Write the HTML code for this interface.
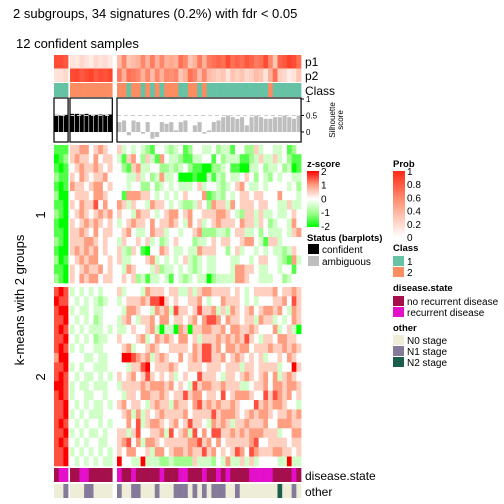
<!DOCTYPE html>
<html><head><meta charset="utf-8">
<style>
html,body{margin:0;padding:0;background:#fff;}
svg{display:block;font-family:"Liberation Sans",sans-serif;}
</style></head>
<body>
<svg id="chart" width="504" height="504" viewBox="0 0 504 504">
<text x="13" y="18" font-size="13">2 subgroups, 34 signatures (0.2%) with fdr &lt; 0.05</text>
<text x="16" y="48" font-size="13">12 confident samples</text>
<text transform="translate(24,300) rotate(-90)" font-size="13" text-anchor="middle">k-means with 2 groups</text>
<text transform="translate(45,215) rotate(-90)" font-size="13" text-anchor="middle">1</text>
<text transform="translate(45,377) rotate(-90)" font-size="13" text-anchor="middle">2</text>
<text x="305" y="66" font-size="12">p1</text>
<text x="305" y="80" font-size="12">p2</text>
<text x="305" y="95" font-size="12">Class</text>
<text x="305" y="480" font-size="12">disease.state</text>
<text x="305" y="496" font-size="12">other</text>
<text transform="translate(335,120) rotate(-90)" font-size="8" text-anchor="middle">Silhouette</text>
<text transform="translate(343,120) rotate(-90)" font-size="8" text-anchor="middle">score</text>
<g id="legends" font-size="10">
<text x="307" y="167" font-weight="bold" font-size="9.5">z-score</text>
<text x="393" y="167" font-weight="bold" font-size="9.5">Prob</text>
<text x="307" y="241" font-weight="bold" font-size="9.5">Status (barplots)</text>
<rect x="308" y="244" width="11" height="10" fill="#000"/>
<text x="322" y="253">confident</text>
<rect x="308" y="256" width="11" height="10" fill="#bebebe"/>
<text x="322" y="265">ambiguous</text>
<text x="393" y="251" font-weight="bold" font-size="9.5">Class</text>
<rect x="393" y="256" width="11" height="10" fill="#66c2a5"/>
<text x="407" y="265">1</text>
<rect x="393" y="267" width="11" height="10" fill="#fc8d62"/>
<text x="407" y="276">2</text>
<text x="393" y="291" font-weight="bold" font-size="9.5">disease.state</text>
<rect x="393" y="296" width="11" height="10" fill="#a50f4c"/>
<text x="407" y="305">no recurrent disease</text>
<rect x="393" y="307" width="11" height="10" fill="#e30fcb"/>
<text x="407" y="316">recurrent disease</text>
<text x="393" y="331" font-weight="bold" font-size="9.5">other</text>
<rect x="393" y="335" width="11" height="10" fill="#eeedd8"/>
<text x="407" y="344">N0 stage</text>
<rect x="393" y="346" width="11" height="10" fill="#857a9a"/>
<text x="407" y="355">N1 stage</text>
<rect x="393" y="357" width="11" height="10" fill="#1b5e4b"/>
<text x="407" y="366">N2 stage</text>
</g>
<defs>
<linearGradient id="zg" x1="0" y1="0" x2="0" y2="1"><stop offset="0" stop-color="#ff0000"/><stop offset="0.25" stop-color="#ff9e81"/><stop offset="0.5" stop-color="#ffffff"/><stop offset="0.75" stop-color="#a0ff8f"/><stop offset="1" stop-color="#00ff00"/></linearGradient>
<linearGradient id="pg" x1="0" y1="0" x2="0" y2="1"><stop offset="0" stop-color="#ff2a14"/><stop offset="0.5" stop-color="#ff9e81"/><stop offset="1" stop-color="#ffffff"/></linearGradient>
</defs>
<rect x="307" y="171" width="12" height="56" fill="url(#zg)"/>
<rect x="393" y="171" width="12" height="66" fill="url(#pg)"/>
<g id="marks"></g>
</svg>
<script>
// ---- data ----
const heatA = [
"111","012","101","211","101","200","110","210","100","110","210","100","201","110","210",
"787","877","788","778","787","778","787","688","778","787","887","787","778","778","787","778","787","778","778"];
const heatB = [
"556645654","565546455","456556545","546545564","655456645","455546654","546557464","456545656","545656545","556546455","555665454","565656454","456566445","545655645","546566455",
"343434344","434343234","343343344","434342344","343433343","434342334","343443344","444334334","343443334","434334343","343343334","344334434","434343343","343433344","434344343","343433434","434344334","343434343","434343433"];
const heatC = [
"534343214432341244334233144225344334124",
"315642531643321133441423331123533534211",
"421563344223234211002234110033423342301",
"443353423633400010031324334542432434433",
"443442242343433345344323456433434444342",
"416665543434345444612324345545544464443",
"653544365543432235426553645554554433533",
"544365543456645644555665432553533433454",
"345655464556543645345655546553542344364",
"456433465534434456222332455334243334356",
"354454534234544423345455445664315534444",
"532541044654334336555442453443434332354",
"533444563434345323433444334434554432163",
"436544435233434323433444366554334434414",
"454523133431432343302333366544333442344",
"534443655545533535665555454345555645565",
"345556577854544556434465554343444556475",
"436654436563755457556353654564566564365",
"356435564664554564677646554553655343465",
"334544563033065055665564665565444634530",
"544456346565466453555656565754355466554",
"456344565445555465775646656645556556565",
"488765635654464565775564565454534454654",
"443557845556544555455545553554555534485",
"545645754545345447555435545654564635654",
"355556566656454375665565553345564665665",
"435546655654557566455474566654475765645",
"564554356553655467565655654447565665443",
"456363545655556455557566654565665455656",
"446473566545645755436565355655564466655",
"553574455637456374647755656566655534466",
"567463665455555667564645555567445555455",
"546644536645665655756454576476555665545",
"844338333223222253332436335353444433833"];
const classA = ["1","1","1"];
const classB = ["2","2","2","2","2","2","2","2","2"];
const classC = "221221212122211221211111111111112111111".split("");
const silA = [0.52,0.5,0.52];
const silB = [0.55,0.55,0.53,0.55,0.52,0.52,0.53,0.52,0.53];
const silC = [0.3,0.35,-0.1,0.35,0.3,-0.05,0.3,-0.2,-0.15,0.3,0.25,0.3,0.05,0.3,0.35,0.0,0.2,0.3,-0.05,0.05,0.3,0.35,0.45,0.5,0.45,0.4,0.45,0.2,0.45,0.5,0.45,0.4,0.4,0.45,0.45,0.5,0.45,0.4,0.5];
const p1A = [0.85,0.85,0.8];
const p1B = [0.15,0.12,0.2,0.15,0.1,0.2,0.15,0.18,0.12];
const p1C = [0.35,0.6,0.3,0.35,0.4,0.6,0.4,0.65,0.4,0.6,0.4,0.45,0.4,0.7,0.6,0.3,0.4,0.65,0.4,0.65,0.7,0.75,0.7,0.85,0.7,0.75,0.7,0.8,0.75,0.65,0.7,0.85,0.6,0.3,0.75,0.8,0.9,0.85,0.7];
const diseaseA = "NRR";
const diseaseB = "NNRRNNNNN";
const diseaseC = "RNNRNNNNNRNNNRRNNNRNNRNRNNNNRRRRRNNNNRN";
const otherA = "001";
const otherB = "000110000";
const otherC = "100110001000111010101110010000000020010";
// ---- layout ----
const groups = [
  {x0:54, w:4.7, heat:heatA, cls:classA, sil:silA, p1:p1A, dis:diseaseA, oth:otherA, conf:true},
  {x0:70, w:4.7, heat:heatB, cls:classB, sil:silB, p1:p1B, dis:diseaseB, oth:otherB, conf:true},
  {x0:117, w:4.72, heat:heatC, cls:classC, sil:silC, p1:p1C, dis:diseaseC, oth:otherC, conf:false}];
const ns='http://www.w3.org/2000/svg';
const G=document.getElementById('marks');
function mk(tag,attrs){const e=document.createElementNS(ns,tag);for(const k in attrs)e.setAttribute(k,attrs[k]);G.appendChild(e);return e;}
function lerp(a,b,t){return a.map((v,i)=>Math.round(v+(b[i]-v)*t));}
function ramp(stops,t){ // stops at 0,0.5,1
  const s=t<=0.5?[stops[0],stops[1],t*2]:[stops[1],stops[2],(t-0.5)*2];
  const c=lerp(s[0],s[1],s[2]);return `rgb(${c[0]},${c[1]},${c[2]})`;}
const WH=[255,255,255];
function zcol(d){const z=(d-4)/2;const t=Math.min(1,Math.abs(z)/2);
  return z>=0?ramp([WH,[255,158,129],[255,0,0]],t):ramp([WH,[160,255,143],[0,255,0]],t);}
function pcol(p){return ramp([WH,[255,158,129],[255,42,20]],p);}
const silY=v=>132-v*33;
function rowY(r){return r<15?145+r*9.2:287+(r-15)*9.42;}
function rowH(r){return r<15?9.2:9.42;}
const clsCol={"1":"#66c2a5","2":"#fc8d62"};
const disCol={"N":"#a50f4c","R":"#e30fcb"};
const othCol={"0":"#eeedd8","1":"#857a9a","2":"#1b5e4b"};
groups.forEach((g,gi)=>{
  const n=g.cls.length; const W=n*g.w;
  for(let c=0;c<n;c++){
    const x=g.x0+c*g.w;
    let e=mk('rect',{x:x,y:55,width:g.w+0.3,height:13.5,fill:pcol(g.p1[c])});
    
    
    e=mk('rect',{x:x,y:68.5,width:g.w+0.3,height:13.5,fill:pcol(1-g.p1[c])});
    
    
    e=mk('rect',{x:x,y:83,width:g.w+0.3,height:14,fill:clsCol[g.cls[c]]});
    
    
    const v=g.sil[c];
    e=mk('rect',{x:x+0.3,y:Math.min(silY(0),silY(v)),width:g.w-0.6,height:Math.abs(silY(v)-silY(0)),fill:g.conf?'#000':'#bebebe'});
    
    
    for(let r=0;r<34;r++){
      e=mk('rect',{x:x,y:rowY(r),width:g.w+0.3,height:rowH(r)+0.3,fill:zcol(+g.heat[r][c])});
      
      
    }
    e=mk('rect',{x:x,y:468,width:g.w+0.3,height:14,fill:disCol[g.dis[c]]});
    
    
    e=mk('rect',{x:x,y:484,width:g.w+0.3,height:14,fill:othCol[g.oth[c]]});
    
    
  }
  let d=mk('line',{x1:g.x0,x2:g.x0+W,y1:silY(0.5),y2:silY(0.5),stroke:'#cccccc','stroke-dasharray':'4,3','stroke-width':1});
  
  
  d=mk('rect',{x:g.x0,y:98,width:W,height:44,fill:'none',stroke:'#000','stroke-width':1.2});
  
  
});
[[1,'1'],[0.5,'0.5'],[0,'0']].forEach(([v,l])=>{
  const t=mk('line',{x1:301,x2:304,y1:silY(v),y2:silY(v),stroke:'#000'});
  
  
  const s=mk('text',{x:306,y:silY(v)+3,'font-size':8});
  s.textContent=l;
  
  
});
const zTicks=["2","1","0","-1","-2"];
zTicks.forEach((l,i)=>{const s=mk('text',{x:321,y:175+i*13.7,'font-size':10});s.textContent=l;
  
  });
const pTicks=["1","0.8","0.6","0.4","0.2","0"];
pTicks.forEach((l,i)=>{const s=mk('text',{x:407,y:175+i*13.2,'font-size':10});s.textContent=l;
  
  });
</script>
</body></html>
